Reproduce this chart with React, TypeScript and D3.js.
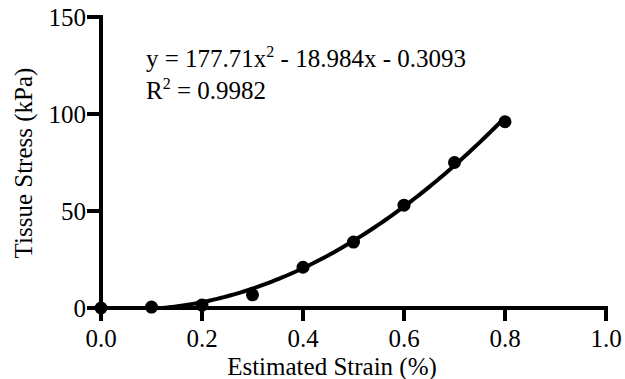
import React from "react";
import * as d3 from "d3";

const strain = [0, 0.1, 0.2, 0.3, 0.4, 0.5, 0.6, 0.7, 0.8];
const stress = [0, 0.5, 1.5, 6.8, 21, 34, 53, 75, 96];
const fitCoefs = [177.71, -18.984, -0.3093];
const xTicks = [0, 0.2, 0.4, 0.6, 0.8, 1.0];
const yTicks = [0, 50, 100, 150];

const W = 625, H = 379;
const TS = { fontFamily: "Liberation Serif" };
const FS = 25;

export default function App() {
  const x = d3.scaleLinear().domain([0, 1]).range([101, 606]);
  const y = d3.scaleLinear().domain([0, 150]).range([308, 17]);
  const f = (v: number) => fitCoefs[0] * v * v + fitCoefs[1] * v + fitCoefs[2];
  const root = (-fitCoefs[1] + Math.sqrt(fitCoefs[1] ** 2 - 4 * fitCoefs[0] * fitCoefs[2])) / (2 * fitCoefs[0]);
  const xs = d3.range(0, 101).map((i) => root + ((0.8 - root) * i) / 100);
  const line = d3.line<number>().x((d) => x(d)).y((d) => y(f(d)));

  return (
    <svg width={W} height={H} style={{ position: "absolute", left: 0, top: 0 }}>
      <rect width={W} height={H} fill="#fff" />
      <line x1={x(0)} x2={x(0)} y1={y(150) - 2} y2={y(0) + 2} stroke="#000" strokeWidth={4} />
      <line x1={x(0) - 2} x2={x(1) + 2} y1={y(0)} y2={y(0)} stroke="#000" strokeWidth={4} />
      {yTicks.map((t) => (
        <g key={"y" + t}>
          <line x1={x(0) - 14} x2={x(0)} y1={y(t)} y2={y(t)} stroke="#000" strokeWidth={4} />
          <text x={x(0) - 15} y={y(t)} dy="0.35em" textAnchor="end" style={TS} fontSize={FS}>
            {d3.format("d")(t)}
          </text>
        </g>
      ))}
      {xTicks.map((t) => (
        <g key={"x" + t}>
          <line x1={x(t)} x2={x(t)} y1={y(0)} y2={y(0) + 13} stroke="#000" strokeWidth={4} />
          <text x={x(t)} y={347} textAnchor="middle" style={TS} fontSize={FS}>
            {d3.format(".1f")(t)}
          </text>
        </g>
      ))}
      <text x={332} y={375} textAnchor="middle" style={TS} fontSize={FS}>
        Estimated Strain (%)
      </text>
      <text transform={`translate(32,163) rotate(-90)`} textAnchor="middle" style={TS} fontSize={FS}>
        Tissue Stress (kPa)
      </text>
      <path d={line(xs) || ""} fill="none" stroke="#000" strokeWidth={4} />
      {strain.map((s, i) => (
        <circle key={i} cx={x(s)} cy={y(stress[i])} r={6.5} fill="#000" />
      ))}
      <text x={146} y={67} style={TS} fontSize={FS}>
        y = 177.71x
        <tspan dy={-10} fontSize={16}>2</tspan>
        <tspan dy={10}> - 18.984x - 0.3093</tspan>
      </text>
      <text x={146} y={99} style={TS} fontSize={FS}>
        R<tspan dy={-10} fontSize={16}>2</tspan>
        <tspan dy={10}> = 0.9982</tspan>
      </text>
    </svg>
  );
}
